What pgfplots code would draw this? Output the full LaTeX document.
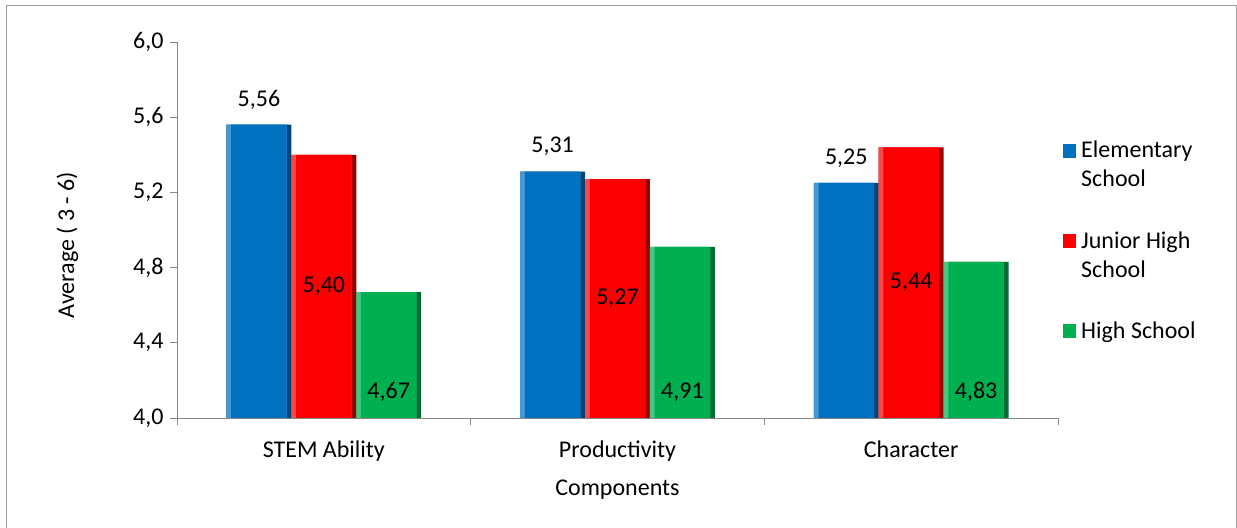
\documentclass[border=0pt]{standalone}
\usepackage{fontspec}
\setmainfont{Carlito}
\usepackage{pgfplots}
\pgfplotsset{compat=1.18}
\definecolor{cBlue}{RGB}{0,112,192}
\definecolor{cRed}{RGB}{250,0,0}
\definecolor{cGreen}{RGB}{0,176,80}
\definecolor{axgray}{RGB}{134,134,134}
\newcommand\f{\fontsize{24bp}{29bp}\selectfont}
\pgfplotsset{
  sq/.style={legend image code/.code={\fill[#1] (0bp,0bp) rectangle (13bp,14bp);}},
  lblfmt/.style={nodes near coords={\pgfmathprintnumber[fixed,fixed zerofill,precision=2,use comma]{\pgfplotspointmeta}}},
  % three layers giving a bevelled look: dark base, lighter left band, main face
  layerA/.style 2 args={ybar, forget plot, bar width=64.9bp, bar shift=#2, fill=#1!62!black, draw=none},
  layerB/.style 2 args={ybar, forget plot, bar width=60.2bp, bar shift=#2-2.35bp, fill=#1!72!white, draw=none},
  layerC/.style 2 args={ybar, bar width=55.5bp, bar shift=#2, fill=#1, draw=none, sq=#1},
}
\begin{document}
\begin{tikzpicture}
\begin{axis}[
  at={(177bp,110bp)}, anchor=south west,
  scale only axis, width=881bp, height=376bp,
  xmin=0, xmax=3, ymin=4, ymax=6,
  axis x line=bottom, axis y line=left,
  axis line style={-, draw=axgray, line width=0.8bp},
  tick style={draw=axgray, line width=0.8bp},
  tick align=outside, major tick length=7bp,
  ytick={4,4.4,4.8,5.2,5.6,6},
  /pgf/number format/assume math mode=true,
  yticklabel style={/pgf/number format/.cd, fixed, fixed zerofill, precision=1, use comma, /tikz/.cd, xshift=-3bp},
  xtick={0,1,2,3}, xticklabels={,,,},
  extra x ticks={0.5,1.5,2.5},
  extra x tick labels={STEM Ability,Productivity,Character},
  extra x tick style={major tick length=0pt, xticklabel style={anchor=base, yshift=-39bp}},
  ticklabel style={font=\f},
  xlabel={Components},
  ylabel={Average ( 3 - 6)},
  every axis x label/.style={at={(axis description cs:0.5,-0.2048)}, anchor=base, font=\f},
  every axis y label/.style={at={(axis description cs:-0.1169,0.46)}, anchor=base, rotate=90, font=\f},
  legend style={at={(axis description cs:1.0057,0.742)}, anchor=north west, draw=none, fill=none,
    font=\f, inner sep=0pt, cells={anchor=base west}, row sep=68bp,
    /tikz/every odd column/.append style={column sep=3bp}},
]
% Elementary School
\addplot[layerA={cBlue}{-64.9bp}] coordinates {(0.5,5.56) (1.5,5.31) (2.5,5.25)};
\addplot[layerB={cBlue}{-64.9bp}] coordinates {(0.5,5.56) (1.5,5.31) (2.5,5.25)};
\addplot[layerC={cBlue}{-64.9bp}, lblfmt,
  every node near coord/.append style={anchor=center, xshift=-64.9bp, yshift=25bp, font=\f, text=black}]
  coordinates {(0.5,5.56) (1.5,5.31) (2.5,5.25)};
% Junior High School
\addplot[layerA={cRed}{0bp}] coordinates {(0.5,5.40) (1.5,5.27) (2.5,5.44)};
\addplot[layerB={cRed}{0bp}] coordinates {(0.5,5.40) (1.5,5.27) (2.5,5.44)};
\addplot[layerC={cRed}{0bp}, lblfmt,
  visualization depends on={rawy \as \rawy},
  every node near coord/.append style={anchor=center, yshift={-(\rawy-4)*94bp}, font=\f, text=black}]
  coordinates {(0.5,5.40) (1.5,5.27) (2.5,5.44)};
% High School
\addplot[layerA={cGreen}{64.9bp}] coordinates {(0.5,4.67) (1.5,4.91) (2.5,4.83)};
\addplot[layerB={cGreen}{64.9bp}] coordinates {(0.5,4.67) (1.5,4.91) (2.5,4.83)};
\addplot[layerC={cGreen}{64.9bp}, lblfmt,
  visualization depends on={rawy \as \rawy},
  every node near coord/.append style={anchor=center, xshift=64.9bp, yshift={-(\rawy-4)*188bp+26bp}, font=\f, text=black}]
  coordinates {(0.5,4.67) (1.5,4.91) (2.5,4.83)};
\legend{\parbox[t]{140bp}{Elementary\\School},\parbox[t]{140bp}{Junior High\\School},\parbox[t]{140bp}{High School}}
\end{axis}
\draw[axgray!80, line width=1bp] (6bp,-5bp) -- (6bp,522bp) -- (1236bp,522bp) -- (1236bp,-5bp);
\pgfresetboundingbox
\path (0bp,0bp) rectangle (1237bp,528bp);
\end{tikzpicture}
\end{document}
